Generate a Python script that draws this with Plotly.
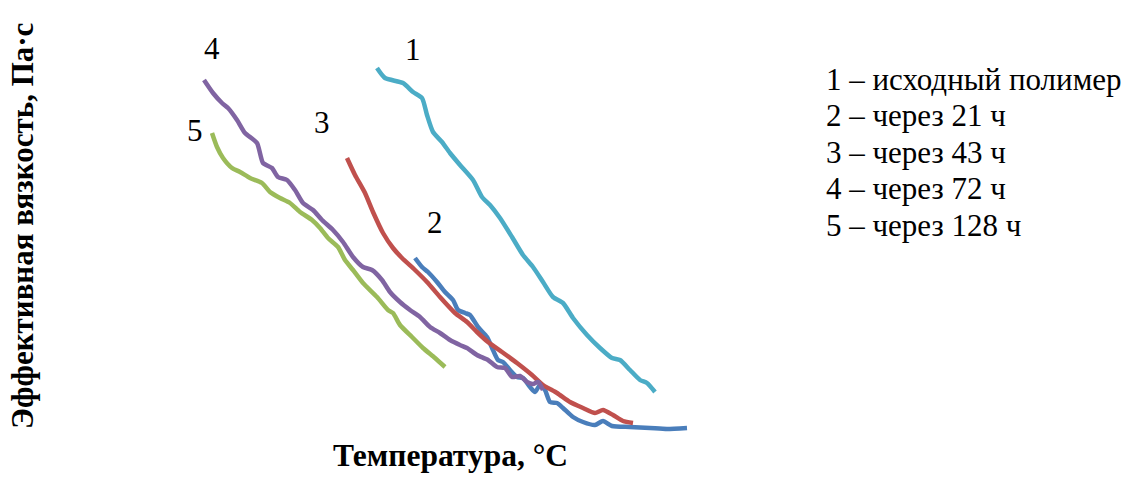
import plotly.graph_objects as go

# Arbitrary units (no scale is shown on the chart)
t1 = [377, 385, 403, 413, 422, 427, 433, 442, 450, 460, 473, 482, 490, 500, 512, 523, 533, 543, 553, 563, 573, 587, 600, 612, 620, 630, 640, 647, 655]
v1 = [68, 78, 83, 92, 98, 115, 132, 142, 153, 165, 180, 197, 205, 218, 237, 255, 267, 282, 297, 303, 318, 335, 348, 358, 360, 370, 380, 383, 392]

t2 = [415, 422, 428, 437, 445, 453, 458, 465, 470, 478, 487, 493, 498, 503, 510, 517, 523, 530, 535, 540, 545, 550, 557, 563, 573, 583, 595, 603, 612, 630, 650, 667, 687]
v2 = [258, 267, 272, 282, 292, 300, 310, 313, 315, 327, 337, 350, 360, 362, 370, 377, 378, 387, 392, 385, 390, 402, 403, 408, 417, 422, 425, 421, 426, 427, 428, 429, 428]

t3 = [347, 355, 365, 373, 383, 393, 402, 415, 427, 440, 455, 467, 477, 488, 502, 517, 532, 543, 557, 570, 583, 595, 603, 613, 623, 633]
v3 = [158, 175, 193, 212, 233, 248, 258, 270, 282, 297, 313, 322, 332, 342, 352, 363, 375, 385, 393, 402, 408, 413, 410, 415, 421, 423]

t4 = [204, 213, 222, 228, 237, 245, 257, 263, 272, 278, 287, 295, 303, 313, 322, 333, 343, 353, 363, 372, 382, 390, 400, 410, 420, 430, 440, 450, 460, 467, 477, 488, 497, 505, 512, 520, 527, 533, 538, 543]
v4 = [80, 93, 103, 108, 120, 133, 143, 163, 168, 177, 180, 190, 203, 210, 220, 230, 242, 257, 267, 270, 280, 292, 302, 310, 317, 327, 333, 340, 345, 348, 355, 360, 367, 368, 377, 376, 382, 384, 382, 390]

t5 = [212, 217, 223, 232, 240, 250, 262, 270, 280, 290, 300, 312, 320, 328, 338, 345, 353, 363, 377, 388, 393, 400, 412, 423, 435, 445]
v5 = [133, 147, 158, 168, 172, 178, 183, 192, 198, 203, 212, 220, 228, 238, 247, 260, 270, 283, 297, 310, 313, 325, 337, 348, 358, 367]

series_t = [t1, t2, t3, t4, t5]
series_v = [v1, v2, v3, v4, v5]
names = ["1 – исходный полимер", "2 – через 21 ч", "3 – через 43 ч", "4 – через 72 ч", "5 – через 128 ч"]
colors = ["#4BACC6", "#4A7EBB", "#C0504D", "#8064A2", "#9BBB59"]
curve_labels = ["1", "2", "3", "4", "5"]
label_t = [413, 435, 322, 212, 195]
label_v = [49, 222.5, 122.5, 48.5, 130.5]

W, H = 1137, 479
OFF = 8  # page body margin
fig = go.Figure()
for t, v, n, c in zip(series_t, series_v, names, colors):
    fig.add_trace(go.Scatter(x=t, y=[H - y for y in v], mode="lines", name=n,
                             line=dict(color=c, width=4.5, shape="spline", smoothing=0.6),
                             hoverinfo="skip"))

font = "Liberation Serif, Times New Roman, serif"
for lab, x, y in zip(curve_labels, label_t, label_v):
    fig.add_annotation(x=x, y=H - y, text=lab, showarrow=False,
                       font=dict(family=font, size=31, color="black"))

for i, n in enumerate(names):
    fig.add_annotation(x=824, y=H - (79 + i * 36.6), text=n, showarrow=False, xanchor="left",
                       font=dict(family=font, size=31, color="black"))

fig.add_annotation(x=450.5, y=H - 455, text="<b>Температура, °C</b>", showarrow=False,
                   font=dict(family=font, size=31.5, color="black"))
fig.add_annotation(x=22, y=H - 226, text="<b>Эффективная вязкость, Па·с</b>", showarrow=False,
                   textangle=-90, font=dict(family=font, size=31, color="black"))

fig.update_layout(
    width=W, height=H, margin=dict(l=0, r=0, t=0, b=0),
    paper_bgcolor="white", plot_bgcolor="white", showlegend=False,
    xaxis=dict(range=[OFF, W + OFF], visible=False, fixedrange=True),
    yaxis=dict(range=[-OFF, H - OFF], visible=False, fixedrange=True),
)
fig.write_html("out.html")
